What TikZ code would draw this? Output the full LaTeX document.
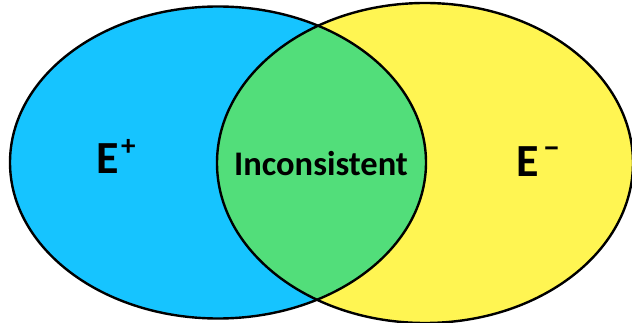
\documentclass[tikz,border=0pt]{standalone}
\usepackage{fontspec}
\setmainfont{Carlito}
\definecolor{setblue}{RGB}{22,196,255}
\definecolor{setyellow}{RGB}{255,245,82}
\definecolor{setgreen}{RGB}{82,222,122}
\tikzset{
  outline/.style={draw=black, line width=2.4pt},
  lbl/.style={inner sep=0pt, anchor=base west, font=\bfseries},
}
\begin{document}
\begin{tikzpicture}[x=1pt,y=-1pt]
\useasboundingbox (0,0) rectangle (632,323);
\clip (0,0) rectangle (632,323);
\def\leftset{(218,162.5) ellipse [x radius=208, y radius=156]}
\def\rightset{(425,163) ellipse [x radius=208, y radius=160]}
\fill[setblue] \leftset;
\fill[setyellow] \rightset;
\begin{scope}
  \clip \leftset;
  \fill[setgreen] \rightset;
\end{scope}
\draw[outline] \leftset;
\draw[outline] \rightset;
\node[lbl, font=\bfseries\fontsize{34.5}{38}\selectfont, anchor=base] (inc) at (321,175.5) {Inconsistent};
\node[lbl, font=\bfseries\fontsize{46}{50}\selectfont] (ep) at (96,174)
  {E\hspace{2.5pt}\raisebox{18pt}{\fontsize{29}{30}\selectfont +}};
\node[lbl, font=\bfseries\fontsize{46}{50}\selectfont] (em) at (516,177)
  {E\hspace{5pt}\raisebox{18pt}{\fontsize{32}{34}\selectfont −}};
\end{tikzpicture}
\end{document}
